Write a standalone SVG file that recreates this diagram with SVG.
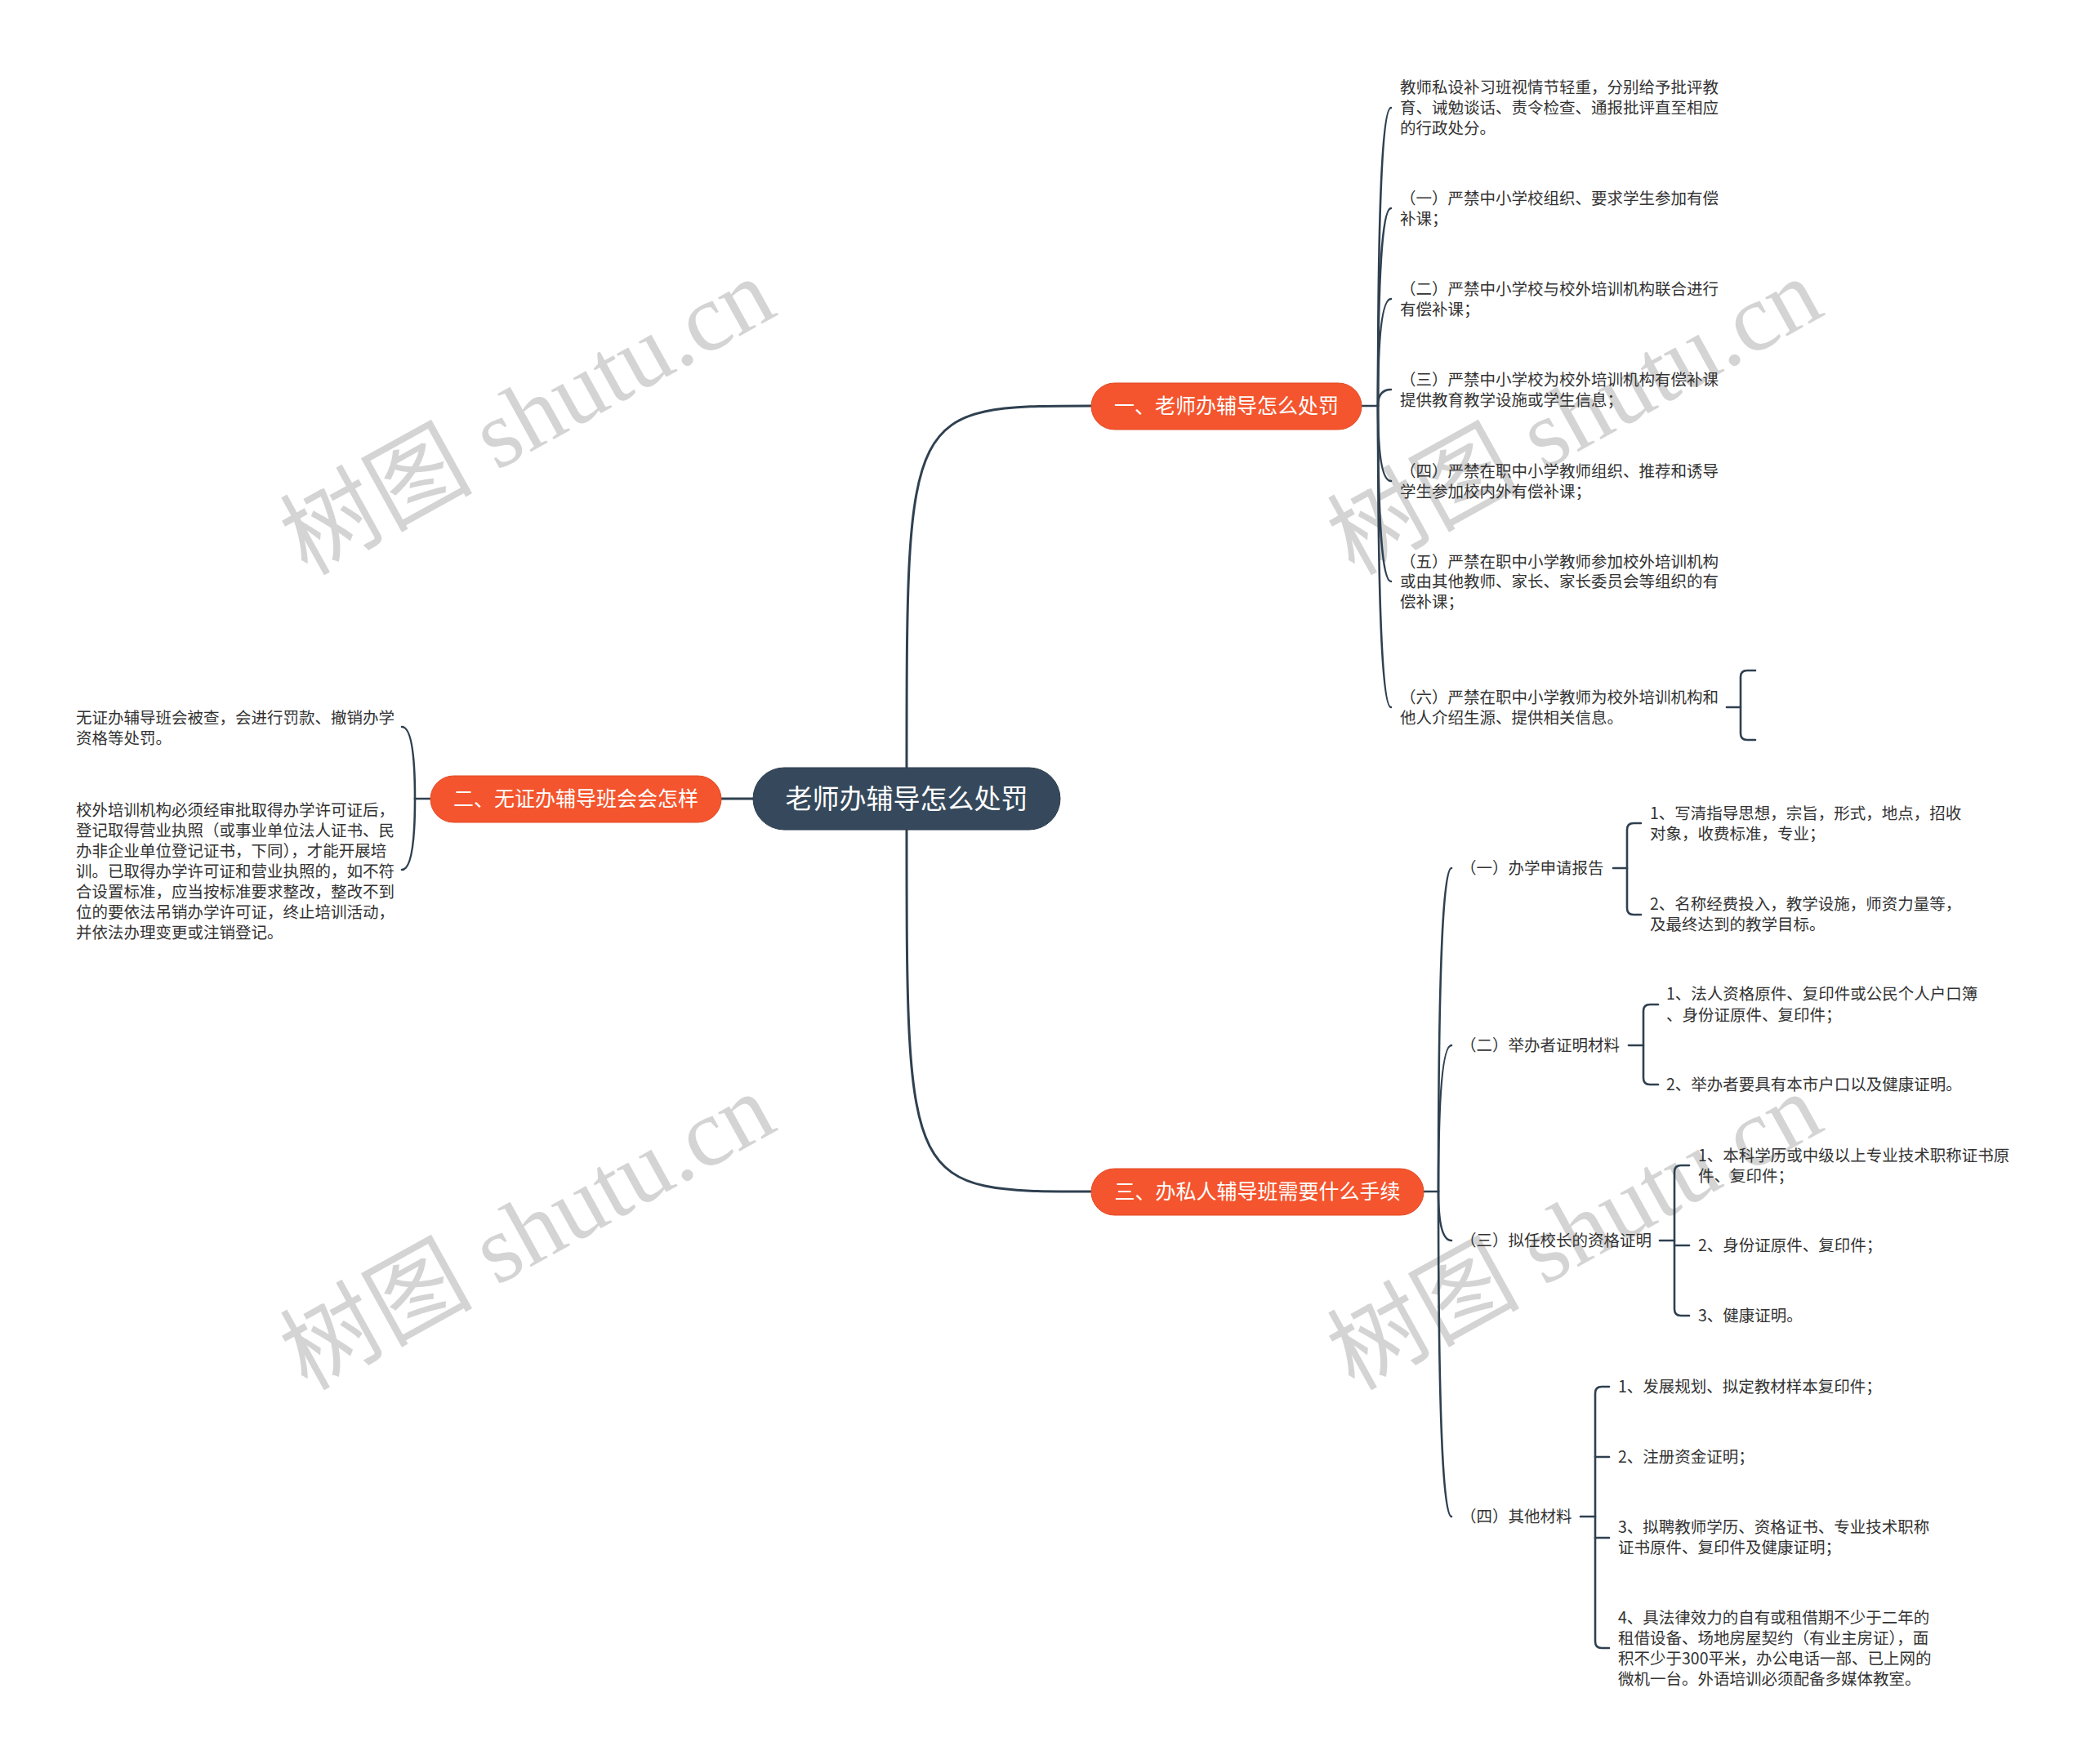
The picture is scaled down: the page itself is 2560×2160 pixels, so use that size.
<svg xmlns="http://www.w3.org/2000/svg" width="2560" height="2160" viewBox="0 0 2560 2160">
<style>
.wm{font-family:"Liberation Serif","Noto Sans CJK SC",serif;font-size:118px;fill:#d4d4d4;text-anchor:middle}
.t{font-family:"Noto Sans CJK SC","Noto Sans",sans-serif;font-size:19.5px;fill:#333333}
.bt{font-family:"Noto Sans CJK SC","Noto Sans",sans-serif;font-size:25px;fill:#ffffff;text-anchor:middle}
.ct{font-family:"Noto Sans CJK SC","Noto Sans",sans-serif;font-size:33px;fill:#ffffff;text-anchor:middle}
.br{fill:#f4552e;stroke:#e24a25;stroke-width:1}
.cn{fill:#36495c;stroke:#2c3d4e;stroke-width:1}
.ln{fill:none;stroke:#2f4050;stroke-width:2.6;stroke-linecap:round}
.mn{fill:none;stroke:#2f4050;stroke-width:3;stroke-linecap:round}
</style>
<rect width="2560" height="2160" fill="#ffffff"/>
<g id="watermark">
<text class="wm" transform="translate(665,545) rotate(-29)">树图 shutu.cn</text>
<text class="wm" transform="translate(1947,545) rotate(-29)">树图 shutu.cn</text>
<text class="wm" transform="translate(665,1543) rotate(-29)">树图 shutu.cn</text>
<text class="wm" transform="translate(1947,1543) rotate(-29)">树图 shutu.cn</text>
</g>
<g id="connectors">
<path class="mn" d="M1110,940 C1110,497 1110,497 1336,497"/>
<path class="mn" d="M1110,1016 C1110,1459 1110,1459 1336,1459"/>
<path class="mn" d="M922,978 H883"/>
<path class="ln" d="M1667,497 H1687"/>
<path class="ln" d="M1687,497 Q1687,132 1703,132"/>
<path class="ln" d="M1687,497 Q1687,255 1703,255"/>
<path class="ln" d="M1687,497 Q1687,366 1703,366"/>
<path class="ln" d="M1687,497 Q1687,477 1703,477"/>
<path class="ln" d="M1687,497 Q1687,589 1703,589"/>
<path class="ln" d="M1687,497 Q1687,712 1703,712"/>
<path class="ln" d="M1687,497 Q1687,866 1703,866"/>
<path class="ln" d="M2114,866 H2131"/>
<path class="ln" d="M2149,821 H2139 Q2131,821 2131,829 V898 Q2131,906 2139,906 H2149"/>
<path class="ln" d="M527,978 H508"/>
<path class="ln" d="M508,978 Q508,890 492,890"/>
<path class="ln" d="M508,978 Q508,1065 492,1065"/>
<path class="ln" d="M1743,1459 H1761"/>
<path class="ln" d="M1761,1459 Q1761,1063 1777,1063"/>
<path class="ln" d="M1761,1459 Q1761,1280 1777,1280"/>
<path class="ln" d="M1761,1459 Q1761,1519 1777,1519"/>
<path class="ln" d="M1761,1459 Q1761,1857 1777,1857"/>
<path class="ln" d="M1975,1063 H1992"/>
<path class="ln" d="M2009,1008 H2000 Q1992,1008 1992,1016 V1112 Q1992,1120 2000,1120 H2009"/>
<path class="ln" d="M1994,1280 H2012"/>
<path class="ln" d="M2030,1230 H2020 Q2012,1230 2012,1238 V1320 Q2012,1328 2020,1328 H2030"/>
<path class="ln" d="M2032,1519 H2050"/>
<path class="ln" d="M2068,1427 H2058 Q2050,1427 2050,1435 V1603 Q2050,1611 2058,1611 H2068"/>
<path class="ln" d="M2050,1525 H2068"/>
<path class="ln" d="M1935,1857 H1953"/>
<path class="ln" d="M1970,1698 H1961 Q1953,1698 1953,1706 V2010 Q1953,2018 1961,2018 H1970"/>
<path class="ln" d="M1953,1784 H1970"/>
<path class="ln" d="M1953,1883 H1970"/>
</g>
<g id="root">
<rect class="cn" x="922" y="940" width="376" height="76" rx="38"/>
<text class="ct" x="1110" y="990">老师办辅导怎么处罚</text>
</g>
<g id="b1">
<rect class="br" x="1336" y="469" width="331" height="57" rx="28.5"/>
<text class="bt" x="1501.5" y="506">一、老师办辅导怎么处罚</text>
</g>
<g id="b2">
<rect class="br" x="527" y="950" width="356" height="57" rx="28.5"/>
<text class="bt" x="705" y="987">二、无证办辅导班会会怎样</text>
</g>
<g id="b3">
<rect class="br" x="1336" y="1431" width="407" height="57" rx="28.5"/>
<text class="bt" x="1539.5" y="1468">三、办私人辅导班需要什么手续</text>
</g>
<g id="b1-leaves">
<text class="t" x="1714" y="114">教师私设补习班视情节轻重，分别给予批评教</text>
<text class="t" x="1714" y="139">育、诫勉谈话、责令检查、通报批评直至相应</text>
<text class="t" x="1714" y="164">的行政处分。</text>
<text class="t" x="1714" y="250">（一）严禁中小学校组织、要求学生参加有偿</text>
<text class="t" x="1714" y="275">补课；</text>
<text class="t" x="1714" y="361">（二）严禁中小学校与校外培训机构联合进行</text>
<text class="t" x="1714" y="386">有偿补课；</text>
<text class="t" x="1714" y="472">（三）严禁中小学校为校外培训机构有偿补课</text>
<text class="t" x="1714" y="497">提供教育教学设施或学生信息；</text>
<text class="t" x="1714" y="584">（四）严禁在职中小学教师组织、推荐和诱导</text>
<text class="t" x="1714" y="609">学生参加校内外有偿补课；</text>
<text class="t" x="1714" y="695">（五）严禁在职中小学教师参加校外培训机构</text>
<text class="t" x="1714" y="719">或由其他教师、家长、家长委员会等组织的有</text>
<text class="t" x="1714" y="744">偿补课；</text>
<text class="t" x="1714" y="861">（六）严禁在职中小学教师为校外培训机构和</text>
<text class="t" x="1714" y="886">他人介绍生源、提供相关信息。</text>
</g>
<g id="b2-leaves">
<text class="t" x="93" y="886">无证办辅导班会被查，会进行罚款、撤销办学</text>
<text class="t" x="93" y="911">资格等处罚。</text>
<text class="t" x="93" y="999">校外培训机构必须经审批取得办学许可证后，</text>
<text class="t" x="93" y="1024">登记取得营业执照（或事业单位法人证书、民</text>
<text class="t" x="93" y="1049">办非企业单位登记证书，下同），才能开展培</text>
<text class="t" x="93" y="1074">训。已取得办学许可证和营业执照的，如不符</text>
<text class="t" x="93" y="1099">合设置标准，应当按标准要求整改，整改不到</text>
<text class="t" x="93" y="1124">位的要依法吊销办学许可证，终止培训活动，</text>
<text class="t" x="93" y="1149">并依法办理变更或注销登记。</text>
</g>
<g id="s1">
<text class="t" x="1788" y="1070">（一）办学申请报告</text>
<text class="t" x="2020" y="1003">1、写清指导思想，宗旨，形式，地点，招收</text>
<text class="t" x="2020" y="1028">对象，收费标准，专业；</text>
<text class="t" x="2020" y="1114">2、名称经费投入，教学设施，师资力量等，</text>
<text class="t" x="2020" y="1139">及最终达到的教学目标。</text>
</g>
<g id="s2">
<text class="t" x="1788" y="1287">（二）举办者证明材料</text>
<text class="t" x="2040" y="1224">1、法人资格原件、复印件或公民个人户口簿</text>
<text class="t" x="2040" y="1250">、身份证原件、复印件；</text>
<text class="t" x="2040" y="1335">2、举办者要具有本市户口以及健康证明。</text>
</g>
<g id="s3">
<text class="t" x="1788" y="1526">（三）拟任校长的资格证明</text>
<text class="t" x="2079" y="1422">1、本科学历或中级以上专业技术职称证书原</text>
<text class="t" x="2079" y="1447">件、复印件；</text>
<text class="t" x="2079" y="1532">2、身份证原件、复印件；</text>
<text class="t" x="2079" y="1618">3、健康证明。</text>
</g>
<g id="s4">
<text class="t" x="1788" y="1864">（四）其他材料</text>
<text class="t" x="1981" y="1705">1、发展规划、拟定教材样本复印件；</text>
<text class="t" x="1981" y="1791">2、注册资金证明；</text>
<text class="t" x="1981" y="1877">3、拟聘教师学历、资格证书、专业技术职称</text>
<text class="t" x="1981" y="1902">证书原件、复印件及健康证明；</text>
<text class="t" x="1981" y="1988">4、具法律效力的自有或租借期不少于二年的</text>
<text class="t" x="1981" y="2013">租借设备、场地房屋契约（有业主房证），面</text>
<text class="t" x="1981" y="2038">积不少于300平米，办公电话一部、已上网的</text>
<text class="t" x="1981" y="2063">微机一台。外语培训必须配备多媒体教室。</text>
</g>
</svg>
